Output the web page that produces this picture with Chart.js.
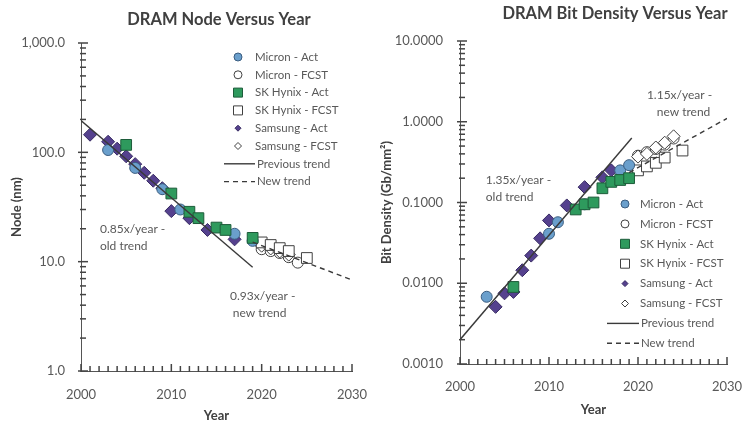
<!DOCTYPE html>
<html>
<head>
<meta charset="utf-8">
<script src="https://cdn.jsdelivr.net/npm/chart.js@4.4.1/dist/chart.umd.min.js"></script>
<style>
  html, body { margin: 0; padding: 0; background: #fff; }
  #wrap { position: relative; width: 742px; height: 422px; overflow: hidden; }
  #nodeChart { position: absolute; left: 0; top: 0; }
  #densityChart { position: absolute; left: 372px; top: 0; }
</style>
</head>
<body>
<div id="wrap">
  <canvas id="nodeChart" width="372" height="422"></canvas>
  <canvas id="densityChart" width="370" height="422"></canvas>
</div>
<script>
// series names (legend order)
var seriesLabels = ['Micron - Act', 'Micron - FCST', 'SK Hynix - Act', 'SK Hynix - FCST',
                    'Samsung - Act', 'Samsung - FCST', 'Previous trend', 'New trend'];

// tick labels
var yearLabels = [2000, 2010, 2020, 2030];
var nodeDecades = [1, 10, 100, 1000];
var densityDecades = [0.001, 0.01, 0.1, 1, 10];

// DRAM node (nm) by year
var micronActYearN = [2003, 2006, 2009, 2011, 2017, 2019];
var micronActNode = [105, 72, 46, 30, 18, 15.5];
var micronFcstYearN = [2020, 2021, 2022, 2023, 2024];
var micronFcstNode = [13, 12.5, 12, 11, 9.8];
var hynixActYearN = [2005, 2010, 2012, 2013, 2015, 2016, 2019];
var hynixActNode = [117, 42, 28.6, 25, 20.5, 19.5, 16.5];
var hynixFcstYearN = [2020, 2021, 2022, 2023, 2025];
var hynixFcstNode = [15, 14.2, 13.3, 12.5, 10.8];
var samsungActYearN = [2001, 2003, 2004, 2005, 2006, 2007, 2008, 2009, 2010, 2012, 2014, 2017];
var samsungActNode = [145, 125, 108, 92, 78, 65, 55, 47, 29, 25, 19.5, 16];
var samsungFcstYearN = [2020, 2021, 2022, 2023];
var samsungFcstNode = [14, 13.2, 12.4, 11.6];
var prevTrendYearN = [2000, 2019];
var prevTrendNode = [195, 8.9];
var newTrendYearN = [2019, 2030];
var newTrendNode = [15.1, 6.8];

// DRAM bit density (Gb/mm2) by year
var micronActYearD = [2003, 2010, 2011, 2014, 2018, 2019];
var micronActDensity = [0.0068, 0.041, 0.057, 0.095, 0.25, 0.29];
var micronFcstYearD = [2020, 2021, 2022, 2023, 2024];
var micronFcstDensity = [0.38, 0.42, 0.46, 0.52, 0.62];
var hynixActYearD = [2006, 2013, 2014, 2015, 2016, 2017, 2018, 2019];
var hynixActDensity = [0.009, 0.082, 0.095, 0.1, 0.15, 0.18, 0.19, 0.2];
var hynixFcstYearD = [2020, 2021, 2022, 2023, 2025];
var hynixFcstDensity = [0.25, 0.28, 0.31, 0.36, 0.44];
var samsungActYearD = [2004, 2005, 2006, 2007, 2008, 2009, 2010, 2012, 2014, 2016, 2017];
var samsungActDensity = [0.0051, 0.0075, 0.0078, 0.0145, 0.022, 0.036, 0.06, 0.092, 0.155, 0.205, 0.25];
var samsungFcstYearD = [2020, 2021, 2022, 2023, 2024];
var samsungFcstDensity = [0.37, 0.4, 0.48, 0.55, 0.66];
var prevTrendYearD = [2000, 2019.3];
var prevTrendDensity = [0.002, 0.63];
var newTrendYearD = [2019, 2030];
var newTrendDensity = [0.235, 1.1];

Chart.defaults.font.family = "Lato, 'Liberation Sans', sans-serif";

function points(xs, ys) {
  return xs.map(function(x, i) { return { x: x, y: ys[i] }; });
}

function markers(label, data, style, radius, fill, edge, order, legendRadius) {
  return {
    label: label, data: data, pointStyle: style, pointRadius: radius,
    backgroundColor: fill, borderColor: edge, borderWidth: 1,
    order: order, legendRadius: legendRadius
  };
}

function trend(label, data, dash) {
  return {
    label: label, data: data, showLine: true, pointRadius: 0,
    borderColor: '#3a3a3a', borderWidth: 1.4, borderDash: dash, order: 0
  };
}

function logTicks(decades) {
  var out = [];
  for (var i = 0; i < decades.length - 1; i++) {
    for (var k = 1; k < 10; k++) out.push({ value: decades[i] * k });
  }
  out.push({ value: decades[decades.length - 1] });
  return out;
}

function isDecade(v, decades) {
  return decades.some(function(d) { return Math.abs(v - d) / d < 1e-6; });
}

function drawMarker(ctx, style, x, y, r) {
  ctx.beginPath();
  if (style === 'circle') {
    ctx.arc(x, y, r, 0, Math.PI * 2);
  } else if (style === 'rect') {
    ctx.rect(x - r, y - r, 2 * r, 2 * r);
  } else {
    ctx.moveTo(x - r, y); ctx.lineTo(x, y - r); ctx.lineTo(x + r, y); ctx.lineTo(x, y + r);
    ctx.closePath();
  }
  ctx.fill();
  ctx.stroke();
}

// inward tick marks, titles, trend notes and the in-plot legend
var overlay = {
  id: 'overlay',
  afterDraw: function(chart, args, o) {
    var ctx = chart.ctx;
    var xs = chart.scales.x, ys = chart.scales.y;
    var left = xs.left, base = ys.bottom;
    ctx.save();
    ctx.setLineDash([]);
    ctx.globalAlpha = 1;
    ctx.strokeStyle = '#444444';
    ctx.lineWidth = 1.5;
    xs.ticks.forEach(function(t) {
      var px = xs.getPixelForValue(t.value);
      var len = t.label ? 7 : 5;
      ctx.beginPath();
      ctx.moveTo(px, base + 1);
      ctx.lineTo(px, base - len);
      ctx.stroke();
    });
    ys.ticks.forEach(function(t) {
      var py = ys.getPixelForValue(t.value);
      var len = t.label ? 7 : 5;
      ctx.beginPath();
      ctx.moveTo(left - (t.label ? 3 : 1), py);
      ctx.lineTo(left + len, py);
      ctx.stroke();
    });

    ctx.textBaseline = 'middle';
    ctx.textAlign = 'center';
    ctx.fillStyle = '#404040';
    ctx.font = "bold 16.5px Lato, 'Liberation Sans', sans-serif";
    ctx.fillText(o.title, o.titleX, o.titleY);

    ctx.textAlign = 'left';
    ctx.fillStyle = '#595959';
    ctx.font = "12px Lato, 'Liberation Sans', sans-serif";
    o.notes.forEach(function(n) {
      ctx.fillText(n.text, xs.getPixelForValue(n.x), ys.getPixelForValue(n.y));
    });

    ctx.font = "11.5px Lato, 'Liberation Sans', sans-serif";
    chart.data.datasets.forEach(function(ds, i) {
      var cy = o.legendY + i * o.legendStep;
      if (ds.showLine) {
        ctx.strokeStyle = ds.borderColor;
        ctx.lineWidth = ds.borderWidth;
        ctx.setLineDash(ds.borderDash || []);
        ctx.beginPath();
        ctx.moveTo(o.lineX0, cy);
        ctx.lineTo(o.lineX1, cy);
        ctx.stroke();
        ctx.setLineDash([]);
        ctx.fillStyle = '#595959';
        ctx.fillText(ds.label, o.lineX1 + 2, cy);
      } else {
        ctx.fillStyle = ds.backgroundColor;
        ctx.strokeStyle = ds.borderColor;
        ctx.lineWidth = 1;
        drawMarker(ctx, ds.pointStyle, o.markerX, cy, ds.legendRadius);
        ctx.fillStyle = '#595959';
        ctx.fillText(ds.label, o.textX, cy);
      }
    });
    ctx.restore();
  }
};

function buildChart(id, s) {
  return new Chart(document.getElementById(id), {
    type: 'scatter',
    data: {
      datasets: [
        markers(seriesLabels[0], s.micronAct, 'circle', 5.5, '#6a9fcc', '#3b5d80', 2, 4),
        markers(seriesLabels[1], s.micronFcst, 'circle', 5.5, '#ffffff', '#404040', 6, 4),
        markers(seriesLabels[2], s.hynixAct, 'rect', 7.6, '#2e9a5d', '#1d5c3a', 1, 4.5),
        markers(seriesLabels[3], s.hynixFcst, 'rect', 7.6, '#ffffff', '#404040', 4, 4.5),
        markers(seriesLabels[4], s.samsungAct, 'rectRot', 6.5, '#55418e', '#372a62', 3, 3),
        markers(seriesLabels[5], s.samsungFcst, 'rectRot', 6.5, '#ffffff', '#404040', 5, 3.5),
        trend(seriesLabels[6], s.prevTrend, []),
        trend(seriesLabels[7], s.newTrend, [5, 4])
      ]
    },
    options: {
      responsive: false,
      animation: false,
      events: [],
      layout: { padding: { top: s.top, right: s.right, left: 0, bottom: 0 } },
      plugins: {
        legend: { display: false },
        tooltip: { enabled: false },
        overlay: s.overlay
      },
      scales: {
        x: {
          type: 'linear', min: 2000, max: 2030,
          afterFit: function(scale) {
            scale.height = s.xHeight;
            scale.paddingLeft = 0;
            scale.paddingRight = 0;
          },
          border: { color: '#555555', width: 1 },
          grid: { display: false, drawTicks: false, tickLength: 0 },
          ticks: {
            stepSize: 1, autoSkip: false, maxRotation: 0, padding: s.xPad,
            color: '#595959', font: { size: 13 },
            callback: function(v) { return yearLabels.indexOf(v) >= 0 ? String(v) : ''; }
          },
          title: {
            display: true, text: 'Year', color: '#404040',
            font: { size: 13, weight: 'bold' }, padding: { top: 0, bottom: s.yearPad }
          }
        },
        y: {
          type: 'logarithmic', min: s.decades[0], max: s.decades[s.decades.length - 1],
          afterBuildTicks: function(scale) { scale.ticks = logTicks(s.decades); },
          afterFit: function(scale) { scale.width = s.yWidth; },
          border: { color: '#555555', width: 1 },
          grid: { display: false, drawTicks: false, tickLength: 0 },
          ticks: {
            autoSkip: false, padding: s.yPad, color: '#595959', font: { size: 13 },
            callback: function(v) { return isDecade(v, s.decades) ? s.format(v) : ''; }
          },
          title: {
            display: true, text: s.yTitle, color: '#404040',
            font: { size: 13, weight: 'bold' }, padding: { top: s.yTitlePad, bottom: 0 }
          }
        }
      }
    },
    plugins: [overlay]
  });
}

buildChart('nodeChart', {
  micronAct: points(micronActYearN, micronActNode),
  micronFcst: points(micronFcstYearN, micronFcstNode),
  hynixAct: points(hynixActYearN, hynixActNode),
  hynixFcst: points(hynixFcstYearN, hynixFcstNode),
  samsungAct: points(samsungActYearN, samsungActNode),
  samsungFcst: points(samsungFcstYearN, samsungFcstNode),
  prevTrend: points(prevTrendYearN, prevTrendNode),
  newTrend: points(newTrendYearN, newTrendNode),
  decades: nodeDecades,
  format: function(v) { return v.toLocaleString('en-US', { minimumFractionDigits: 1, maximumFractionDigits: 1 }); },
  yTitle: 'Node (nm)',
  top: 43, right: 20, xHeight: 51, yWidth: 81,
  xPad: 16, yPad: 16, yearPad: -2, yTitlePad: 9,
  overlay: {
    title: 'DRAM Node Versus Year', titleX: 219, titleY: 20,
    notes: [
      { text: '0.85x/year -', x: 2002.1, y: 19.9 },
      { text: 'old trend', x: 2002.1, y: 13.9 },
      { text: '0.93x/year -', x: 2016.5, y: 4.84 },
      { text: 'new trend', x: 2016.8, y: 3.4 }
    ],
    legendY: 57, legendStep: 17.8, markerX: 238, textX: 255, lineX0: 224, lineX1: 255
  }
});

buildChart('densityChart', {
  micronAct: points(micronActYearD, micronActDensity),
  micronFcst: points(micronFcstYearD, micronFcstDensity),
  hynixAct: points(hynixActYearD, hynixActDensity),
  hynixFcst: points(hynixFcstYearD, hynixFcstDensity),
  samsungAct: points(samsungActYearD, samsungActDensity),
  samsungFcst: points(samsungFcstYearD, samsungFcstDensity),
  prevTrend: points(prevTrendYearD, prevTrendDensity),
  newTrend: points(newTrendYearD, newTrendDensity),
  decades: densityDecades,
  format: function(v) { return v.toFixed(4); },
  yTitle: 'Bit Density (Gb/mm\u00b2)',
  top: 41, right: 15, xHeight: 58, yWidth: 88,
  xPad: 15, yPad: 17, yearPad: 4, yTitlePad: 7,
  overlay: {
    title: 'DRAM Bit Density Versus Year', titleX: 615 - 372, titleY: 14,
    notes: [
      { text: '1.35x/year -', x: 2002.9, y: 0.187 },
      { text: 'old trend', x: 2002.9, y: 0.115 },
      { text: '1.15x/year -', x: 2021.0, y: 2.15 },
      { text: 'new trend', x: 2022.1, y: 1.33 }
    ],
    legendY: 204, legendStep: 19.9, markerX: 253, textX: 268, lineX0: 235, lineX1: 267
  }
});
</script>
</body>
</html>
